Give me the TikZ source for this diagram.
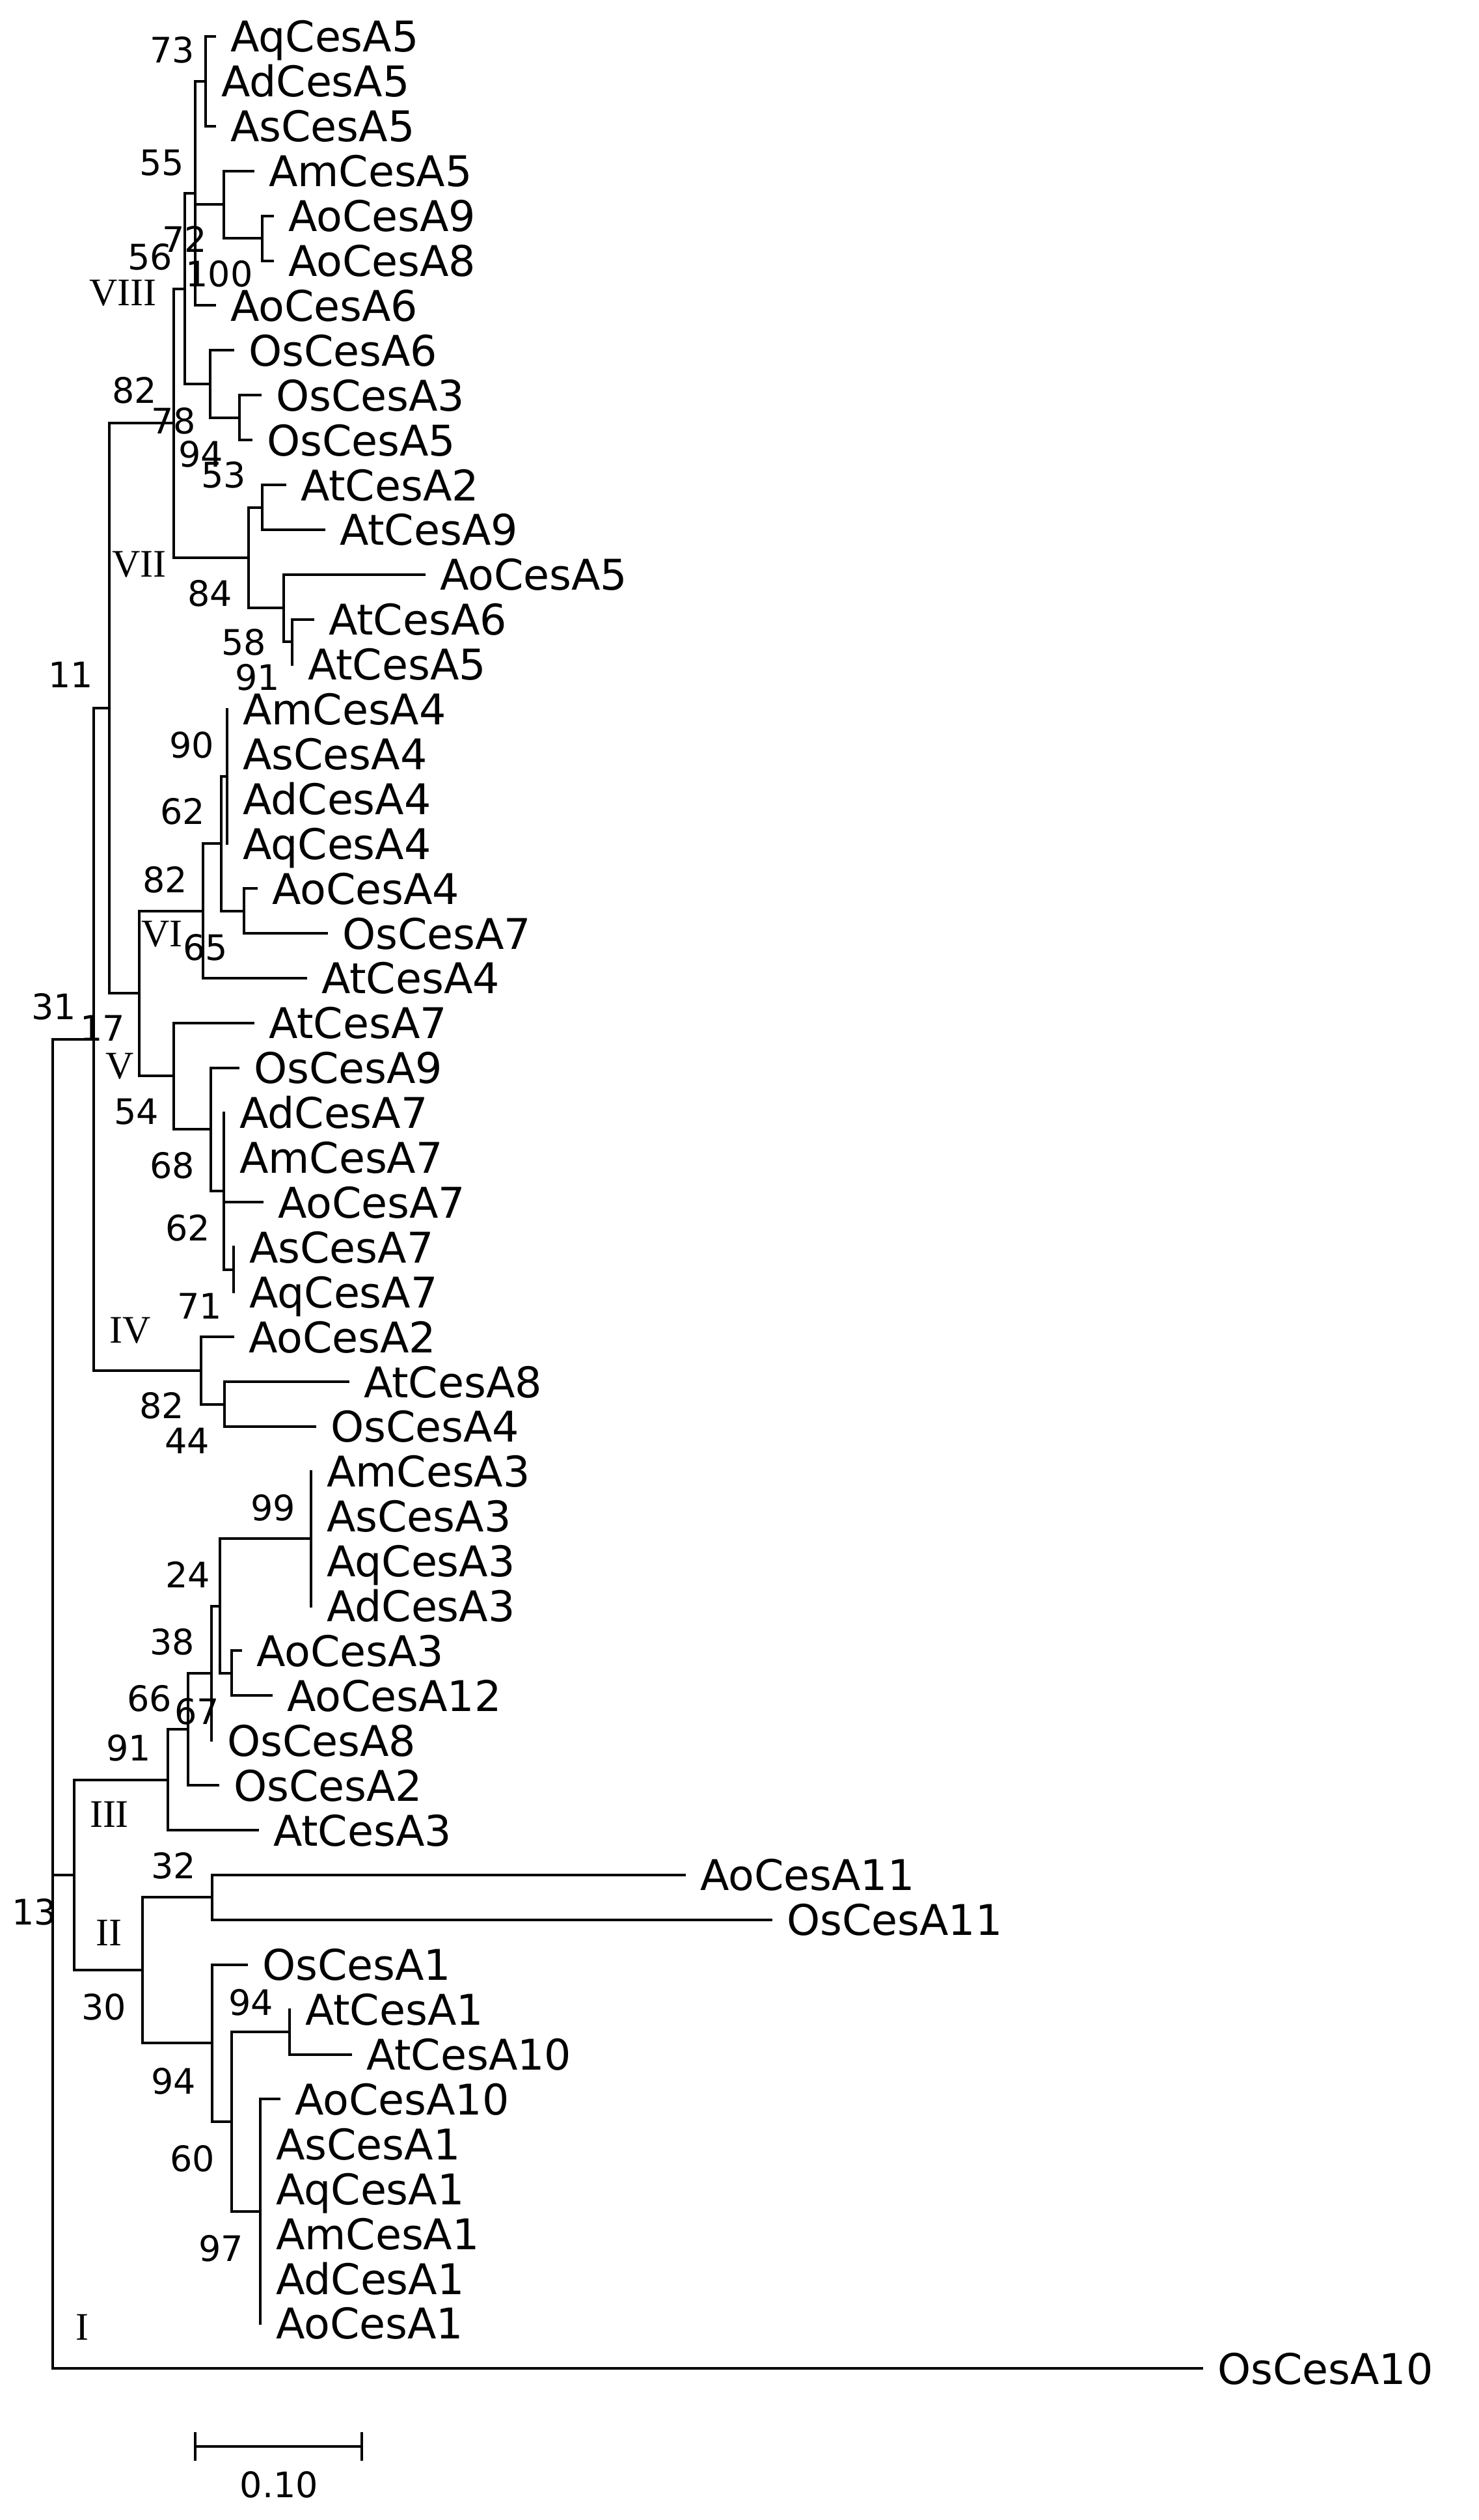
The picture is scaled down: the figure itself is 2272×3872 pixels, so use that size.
\documentclass[tikz,border=0pt]{standalone}
\usepackage{fontspec}
\setmainfont{DejaVu Sans}
\newfontfamily\romfont{Liberation Serif}
\usetikzlibrary{positioning}

\begin{document}
\begin{tikzpicture}[x=1pt, y=-1pt, line width=4pt, line cap=rect]
			\tikzset{
				leaf/.style={anchor=west, inner sep=0pt, xshift=22pt, text height=48pt, text depth=0pt, font=\fontsize{65}{70}\selectfont},
				boot/.style={inner sep=0pt, font=\fontsize{54}{58}\selectfont},
				clade/.style={inner sep=0pt, font=\romfont\fontsize{60}{64}\selectfont},
				branch/.style={draw=black, line width=4pt},
			}
			\useasboundingbox (0,0) rectangle (2272,3872);
			% leaves: name / x of tip / row
			\foreach \n/\x/\i in {AqCesA5/330/0, AdCesA5/316/1, AsCesA5/330/2, AmCesA5/389/3, AoCesA9/419/4, AoCesA8/419/5, AoCesA6/330/6,
				OsCesA6/358/7, OsCesA3/400/8, OsCesA5/386/9, AtCesA2/438/10, AtCesA9/498/11, AoCesA5/652/12, AtCesA6/481/13, AtCesA5/449/14,
				AmCesA4/349/15, AsCesA4/349/16, AdCesA4/349/17, AqCesA4/349/18, AoCesA4/394/19, OsCesA7/502/20, AtCesA4/470/21,
				AtCesA7/389/22, OsCesA9/366/23, AdCesA7/344/24, AmCesA7/344/25, AoCesA7/403/26, AsCesA7/359/27, AqCesA7/359/28,
				AoCesA2/358/29, AtCesA8/535/30, OsCesA4/484/31, AmCesA3/478/32, AsCesA3/478/33, AqCesA3/478/34, AdCesA3/478/35,
				AoCesA3/370/36, AoCesA12/417/37, OsCesA8/325/38, OsCesA2/335/39, AtCesA3/396/40, AoCesA11/1052/41, OsCesA11/1185/42,
				OsCesA1/379/43, AtCesA1/445/44, AtCesA10/539/45, AoCesA10/429/46, AsCesA1/400/47, AqCesA1/400/48, AmCesA1/400/49,
				AdCesA1/400/50, AoCesA1/400/51}
			{
				\coordinate (\n) at (\x,{56+68.9*\i});
				\node[leaf] (t\n) at (\n) {\n};
			}
			\coordinate (OsCesA10) at (1847,3639);
			\node[leaf] (tOsCesA10) at (OsCesA10) {OsCesA10};
			% inner nodes
			\foreach \n/\x/\y in {nA/316/124.9, nC/344/314.4, nD/403/366, nB/300/297, nH/368/641.7, nF/323/590, nE/284/443.5,
				nJ/403/779.5, nL/449/986, nK/436/934, nI/382/857, nG/267/650, nR/349/1193, nS/375/1399.5, nQ/340/1296,
				nP/312/1399.5, nX/359/1950.7, nW/344/1830, nU/324/1735, nT/267/1653, nV/214/1526, nM/168/1088,
				nYb/345/2157.5, nY/309/2106, nN/144/1597, nAc/478/2364, nCc/356/2571, nBc/338/2467.5, nDc/325/2571,
				nEc/289/2657, nFc/258/2734.5, nIc/326/2915, nLc/445/3122, nMc/400/3398, nKc/356/3260, nJc/326/3139,
				nHc/219/3027, nGc/114/2881, root/81/1597}
				\coordinate (\n) at (\x,\y);
			% branches
			\foreach \p/\c in {nA/AqCesA5, nA/AsCesA5, nD/AoCesA9, nD/AoCesA8, nC/AmCesA5, nC/nD, nB/nA, nB/nC, nB/AoCesA6,
				nH/OsCesA3, nH/OsCesA5, nF/OsCesA6, nF/nH, nE/nB, nE/nF, nJ/AtCesA2, nJ/AtCesA9, nL/AtCesA6, nL/AtCesA5,
				nK/AoCesA5, nK/nL, nI/nJ, nI/nK, nG/nE, nG/nI, nR/AmCesA4, nR/AqCesA4, nS/AoCesA4, nS/OsCesA7, nQ/nR, nQ/nS,
				nP/nQ, nP/AtCesA4, nX/AsCesA7, nX/AqCesA7, nW/AdCesA7, nW/AoCesA7, nW/nX, nU/OsCesA9, nU/nW, nT/AtCesA7, nT/nU,
				nV/nP, nV/nT, nM/nG, nM/nV, nYb/AtCesA8, nYb/OsCesA4, nY/AoCesA2, nY/nYb, nN/nM, nN/nY,
				nAc/AmCesA3, nAc/AdCesA3, nCc/AoCesA3, nCc/AoCesA12, nBc/nAc, nBc/nCc, nDc/nBc, nDc/OsCesA8, nEc/nDc, nEc/OsCesA2,
				nFc/nEc, nFc/AtCesA3, nIc/AoCesA11, nIc/OsCesA11, nLc/AtCesA1, nLc/AtCesA10, nMc/AoCesA10, nMc/AoCesA1,
				nKc/nLc, nKc/nMc, nJc/OsCesA1, nJc/nKc, nHc/nIc, nHc/nJc, nGc/nFc, nGc/nHc, root/nN, root/nGc, root/OsCesA10}
				\draw[branch] (\p) |- (\c);
			% bootstrap values
			\foreach \t/\x/\y in {73/265/77, 55/249/250, 72/284/367, 56/231/395, 100/337/421, 82/207/600, 78/267/647, 94/309/698,
				53/344/730, 84/323/912, 58/375/987, 91/396/1041, 11/109/1037, 90/295/1145, 62/281/1247, 82/254/1352, 65/316/1456,
				31/83/1547, 17/158/1580, 54/210/1708, 68/265/1791, 62/289/1887, 71/307/2007, 82/249/2160, 44/288/2214,
				99/420/2317, 24/289/2419, 38/265/2523, 66/230/2610, 67/303/2630, 91/198/2686, 32/267/2867, 13/53/2938,
				30/160/3084, 94/386/3077, 94/267/3198, 60/296/3317, 97/340/3455}
				\node[boot] (b\t-\y) at (\x,\y) {\t};
			% groups
			\foreach \t/\x/\y in {VIII/189/450, VII/214/867, VI/249/1435, V/184/1638, IV/200/2044, III/168/2788, II/167/2970, I/126/3576}
				\node[clade] (g\t) at (\x,\y) {\t};
			% scale bar
			\coordinate (sbl) at (300,3759);
			\coordinate (sbr) at (556,3759);
			\draw[branch, line cap=butt] (sbl) -- (sbr);
			\draw[branch, line cap=butt] ([yshift=22pt]sbl) -- ([yshift=-22pt]sbl);
			\draw[branch, line cap=butt] ([yshift=22pt]sbr) -- ([yshift=-22pt]sbr);
			\node[boot] (sblabel) at (429,3818) {0.10};
		\end{tikzpicture}
\end{document}
